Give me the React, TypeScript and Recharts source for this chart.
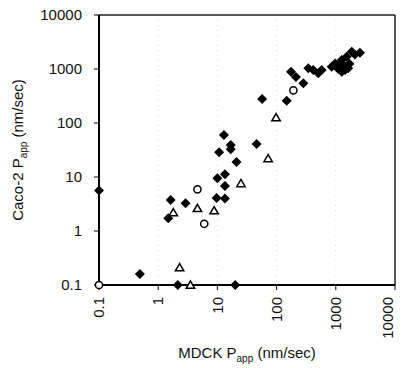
import {
  ScatterChart,
  Scatter,
  XAxis,
  YAxis,
  ReferenceLine,
  CartesianGrid,
} from "recharts";

// ─── Data ─────────────────────────────────────────────────

const X_TICKS = [0.1, 1, 10, 100, 1000, 10000];
const Y_TICKS = [0.1, 1, 10, 100, 1000, 10000];

// filled diamonds: [MDCK, Caco-2]
const diamonds: [number, number][] = [
  [0.1, 5.6],
  [0.49, 0.16],
  [1.48, 1.72],
  [1.62, 3.75],
  [2.14, 0.1],
  [2.9, 3.26],
  [9.7, 4.1],
  [13.4, 4.0],
  [13.4, 6.8],
  [10, 9.5],
  [13.4, 11.2],
  [21, 19],
  [10.7, 28.6],
  [16.8, 32.7],
  [16.8, 39],
  [12.9, 60],
  [46, 41],
  [20, 0.1],
  [57, 278],
  [148, 258],
  [175, 890],
  [212, 710],
  [283, 543],
  [343, 1030],
  [417, 955],
  [505, 830],
  [577, 955],
  [853, 1100],
  [975, 1270],
  [1100, 1000],
  [1150, 1200],
  [1260, 1470],
  [1260, 890],
  [1400, 1150],
  [1430, 955],
  [1520, 1690],
  [1620, 1030],
  [1700, 1250],
  [1860, 2090],
  [2100, 1850],
  [2560, 2000],
];

// open circles
const circles: [number, number][] = [
  [0.1, 0.1],
  [4.6, 5.9],
  [6.0, 1.36],
  [192, 403],
];

// open triangles
const triangles: [number, number][] = [
  [1.8, 2.2],
  [2.3, 0.21],
  [3.5, 0.1],
  [4.6, 2.63],
  [8.8, 2.38],
  [25, 7.6],
  [72, 22],
  [98, 126],
];

const toPts = (arr: [number, number][]) => arr.map(([x, y]) => ({ x, y }));

// ─── Shapes ──────────────────────────────────────────────

const FONT = "'Liberation Sans', Arial, sans-serif";

function Diamond(props: any) {
  const { cx, cy } = props;
  const r = 5;
  return (
    <polygon
      points={`${cx},${cy - r} ${cx + r},${cy} ${cx},${cy + r} ${cx - r},${cy}`}
      fill="#000"
    />
  );
}

function Circle(props: any) {
  const { cx, cy } = props;
  return <circle cx={cx} cy={cy} r={3.6} fill="#fff" stroke="#000" strokeWidth={1.5} />;
}

function Triangle(props: any) {
  const { cx, cy } = props;
  return (
    <polygon
      points={`${cx},${cy - 4} ${cx + 4.2},${cy + 3.2} ${cx - 4.2},${cy + 3.2}`}
      fill="#fff"
      stroke="#000"
      strokeWidth={1.5}
      strokeLinejoin="miter"
    />
  );
}

function XTick(props: any) {
  const { x, y, payload } = props;
  return (
    <text
      x={x}
      y={y}
      transform={`rotate(-90 ${x} ${y})`}
      textAnchor="end"
      dy="0.35em"
      fontSize={15}
      fontFamily={FONT}
      fill="#111"
    >
      {payload.value}
    </text>
  );
}

// ─── Chart ───────────────────────────────────────────────

export default function App() {
  return (
    <div
      style={{
        position: "absolute",
        left: 0,
        top: 0,
        width: 408,
        height: 368,
        background: "#fff",
      }}
    >
      <ScatterChart
        width={408}
        height={368}
        margin={{ top: 15, right: 13, left: 0, bottom: 0 }}
      >
        <CartesianGrid
          horizontal={false}
          stroke="#dcdcdc"
          strokeDasharray="1 4"
          verticalValues={[1, 10, 100, 1000]}
        />
        <XAxis
          type="number"
          dataKey="x"
          scale="log"
          domain={[0.1, 10000]}
          ticks={X_TICKS}
          height={83}
          tick={<XTick />}
          tickSize={5}
          tickMargin={7}
          axisLine={{ stroke: "#000", strokeWidth: 2 }}
          tickLine={{ stroke: "#000" }}
          label={{
            content: () => (
              <text
                x={247}
                y={358}
                textAnchor="middle"
                fontSize={15}
                fontFamily={FONT}
                fill="#111"
              >
                MDCK P
                <tspan fontSize={10} dy={4}>
                  app
                </tspan>
                <tspan dy={-4}> (nm/sec)</tspan>
              </text>
            ),
          }}
        />
        <YAxis
          type="number"
          dataKey="y"
          scale="log"
          domain={[0.1, 10000]}
          ticks={Y_TICKS}
          width={99}
          tickSize={5}
          tickMargin={12}
          tick={{ fontSize: 15, fontFamily: FONT, fill: "#111" }}
          axisLine={{ stroke: "#000", strokeWidth: 2 }}
          tickLine={{ stroke: "#000" }}
          label={{
            content: () => (
              <text
                x={23}
                y={150}
                transform="rotate(-90 23 150)"
                textAnchor="middle"
                fontSize={15}
                fontFamily={FONT}
                fill="#111"
              >
                Caco-2 P
                <tspan fontSize={10} dy={4}>
                  app
                </tspan>
                <tspan dy={-4}> (nm/sec)</tspan>
              </text>
            ),
          }}
        />
        <ReferenceLine y={10000} stroke="#222" strokeWidth={1.5} />
        <ReferenceLine x={10000} stroke="#222" strokeWidth={1.5} />
        <Scatter data={toPts(diamonds)} shape={<Diamond />} isAnimationActive={false} />
        <Scatter data={toPts(triangles)} shape={<Triangle />} isAnimationActive={false} />
        <Scatter data={toPts(circles)} shape={<Circle />} isAnimationActive={false} />
      </ScatterChart>
    </div>
  );
}
